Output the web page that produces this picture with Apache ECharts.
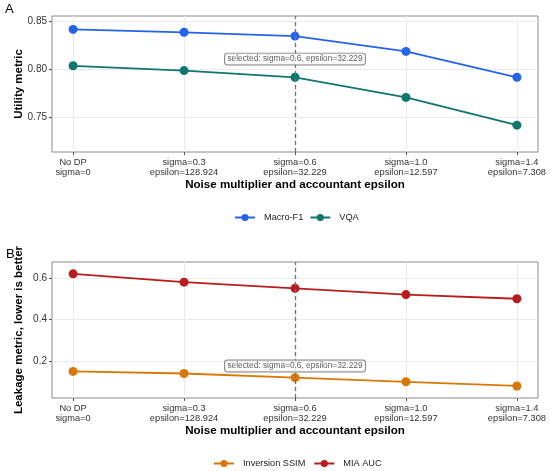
<!DOCTYPE html>
<html>
<head>
<meta charset="utf-8">
<script src="https://cdn.jsdelivr.net/npm/echarts@6/dist/echarts.min.js"></script>
<style>html,body{margin:0;padding:0;background:#fff}#c{width:550px;height:471px}</style>
</head>
<body>
<div id="c"></div>
<script>
const tickLabels = ['No DP\nsigma=0', 'sigma=0.3\nepsilon=128.924', 'sigma=0.6\nepsilon=32.229', 'sigma=1.0\nepsilon=12.597', 'sigma=1.4\nepsilon=7.308'];
const macroF1 = [0.842, 0.839, 0.835, 0.819, 0.792];
const vqa = [0.804, 0.799, 0.792, 0.771, 0.742];
const inversionSSIM = [0.15, 0.14, 0.12, 0.10, 0.08];
const miaAUC = [0.62, 0.58, 0.55, 0.52, 0.50];
const utilityTicks = [0.75, 0.80, 0.85];
const leakageTicks = [0.2, 0.4, 0.6];
const selectedIndex = 2;
const selectedText = 'selected: sigma=0.6, epsilon=32.229';
const annotUtilityY = 0.811;
const annotLeakageY = 0.176;

const FONT = '"Liberation Sans", Arial, Helvetica, sans-serif';
const pts = arr => arr.map((v, i) => [i, v]);

function xAxis(gi) {
  return {
    type: 'value', gridIndex: gi, min: -0.19, max: 4.19,
    name: 'Noise multiplier and accountant epsilon', nameLocation: 'middle', nameGap: 27, nameMoveOverlap: false,
    nameTextStyle: { fontFamily: FONT, fontWeight: 'bold', fontSize: 11.6, color: '#000' },
    axisLine: { show: false, onZero: false },
    axisTick: { show: true, length: 3, customValues: [0, 1, 2, 3, 4], lineStyle: { color: '#555', width: 1 } },
    axisLabel: { customValues: [0, 1, 2, 3, 4], margin: 5, fontFamily: FONT, fontSize: 9.3, color: '#333', lineHeight: 10.6,
      formatter: v => tickLabels[Math.round(v)] },
    splitLine: { show: true, lineStyle: { color: '#ebebeb', width: 1 } }
  };
}
function yAxis(gi, min, max, ticks, name, dec) {
  return {
    type: 'value', gridIndex: gi, min: min, max: max,
    name: name, nameLocation: 'middle', nameGap: 27, nameRotate: 90, nameMoveOverlap: false,
    nameTextStyle: { fontFamily: FONT, fontWeight: 'bold', fontSize: 11.5, color: '#000' },
    axisLine: { show: false, onZero: false },
    axisTick: { show: true, length: 3, customValues: ticks, lineStyle: { color: '#555', width: 1 } },
    axisLabel: { customValues: ticks, margin: 5, fontFamily: FONT, fontSize: 10, color: '#333',
      formatter: v => v.toFixed(dec) },
    splitLine: { show: true, lineStyle: { color: '#ebebeb', width: 1 } }
  };
}
function lineSeries(name, data, color, xi) {
  return {
    type: 'line', name: name, data: pts(data), xAxisIndex: xi, yAxisIndex: xi,
    symbol: 'circle', symbolSize: 9, z: 3,
    lineStyle: { color: color, width: 1.8 }, itemStyle: { color: color }
  };
}
function vline(xi) {
  return {
    type: 'line', name: 'vline' + xi, data: [], xAxisIndex: xi, yAxisIndex: xi, z: 1, silent: true,
    markLine: { silent: true, symbol: 'none', label: { show: false },
      lineStyle: { color: '#6b7280', width: 1.3, type: [4, 3] },
      data: [{ xAxis: selectedIndex }] }
  };
}
function annot(xi, y) {
  return {
    type: 'scatter', name: 'annot' + xi, xAxisIndex: xi, yAxisIndex: xi, z: 5, silent: true,
    symbolSize: 1, itemStyle: { color: 'rgba(0,0,0,0)' },
    data: [[selectedIndex, y]],
    label: { show: true, position: 'inside', formatter: selectedText, fontFamily: FONT, fontSize: 8.3, color: '#333',
      backgroundColor: '#fff', borderColor: '#666', borderWidth: 0.9, borderRadius: 2.5, padding: [1, 2.5, 0, 2.5], lineHeight: 10 }
  };
}

const chart = echarts.init(document.getElementById('c'), null, { renderer: 'canvas' });
chart.setOption({
  animation: false,
  backgroundColor: '#fff',
  grid: [
    { left: 52, right: 12, top: 16, height: 136, show: true, borderColor: '#8a8a8a', borderWidth: 1, backgroundColor: 'transparent', outerBoundsMode: 'none', containLabel: false },
    { left: 52, right: 12, top: 262, height: 136, show: true, borderColor: '#8a8a8a', borderWidth: 1, backgroundColor: 'transparent', outerBoundsMode: 'none', containLabel: false }
  ],
  xAxis: [xAxis(0), xAxis(1)],
  yAxis: [
    yAxis(0, 0.714, 0.856, utilityTicks, 'Utility metric', 2),
    yAxis(1, 0.022, 0.677, leakageTicks, 'Leakage metric, lower is better', 1)
  ],
  legend: [
    { data: ['Macro-F1', 'VQA'], left: 234, top: 213, padding: 0, itemWidth: 20, itemHeight: 9, itemGap: 6,
      textStyle: { fontFamily: FONT, fontSize: 9.2, color: '#222', padding: [0, 0, 0, 4] } },
    { data: ['Inversion SSIM', 'MIA AUC'], left: 213, top: 459, padding: 0, itemWidth: 20, itemHeight: 9, itemGap: 8,
      textStyle: { fontFamily: FONT, fontSize: 9.2, color: '#222', padding: [0, 0, 0, 4] } }
  ],
  graphic: [
    { type: 'text', left: 5, top: 3, style: { text: 'A', fontFamily: FONT, fontSize: 13, fill: '#000' } },
    { type: 'text', left: 6, top: 248, style: { text: 'B', fontFamily: FONT, fontSize: 13, fill: '#000' } }
  ],
  series: [
    vline(0), vline(1),
    lineSeries('Macro-F1', macroF1, '#2563eb', 0),
    lineSeries('VQA', vqa, '#0f766e', 0),
    lineSeries('Inversion SSIM', inversionSSIM, '#d97706', 1),
    lineSeries('MIA AUC', miaAUC, '#b91c1c', 1),
    annot(0, annotUtilityY), annot(1, annotLeakageY)
  ]
});
</script>
</body>
</html>
